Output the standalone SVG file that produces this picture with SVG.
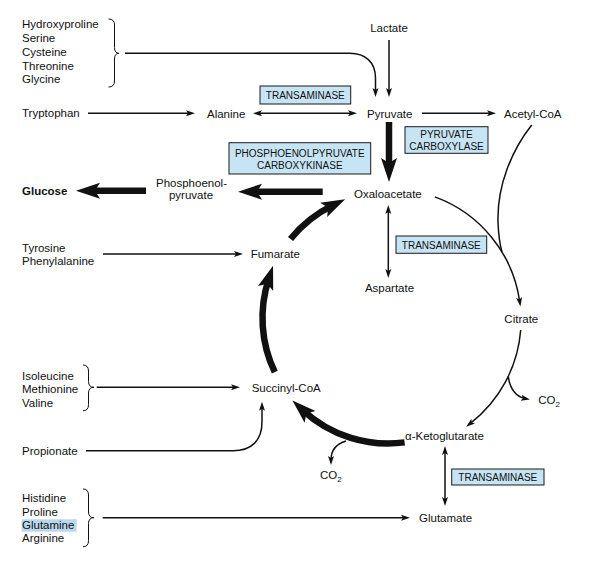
<svg xmlns="http://www.w3.org/2000/svg" width="591" height="561" viewBox="0 0 591 561">
<style>
text{font-family:"Liberation Sans",Arial,sans-serif;font-size:11.5px;fill:#111}
.b{font-weight:bold}
.m{text-anchor:middle}
.box rect{fill:#c6e4f4;stroke:#1a1a1a;stroke-width:1}
.box text{font-size:10px;text-anchor:middle}
.thin{fill:none;stroke:#111;stroke-width:1.5}
.thick{fill:none;stroke:#111;stroke-width:6.5}
.brace{fill:none;stroke:#111;stroke-width:1}
</style>
<defs>
<marker id="ah" markerUnits="userSpaceOnUse" viewBox="0 -4 10 8" markerWidth="10" markerHeight="8" refX="4" refY="0" orient="auto-start-reverse">
<path d="M0,-3 L9,0 L0,3 L2,0 z" fill="#111"/>
</marker>
<marker id="big" markerUnits="userSpaceOnUse" viewBox="0 -9 25 18" markerWidth="25" markerHeight="18" refX="10" refY="0" orient="auto">
<path d="M0,-8 L24,0 L0,8 L5,0 z" fill="#111"/>
</marker>
</defs>

<g id="connectors">
<path class="thin" d="M125,53.3 L350,53.3 C365,53.3 375.5,62 375.5,78 L375.5,92" marker-end="url(#ah)"/>
<path class="thin" d="M389,40 V92" marker-end="url(#ah)"/>
<path class="thin" d="M88,113.3 H190" marker-end="url(#ah)"/>
<path class="thin" d="M258,113.3 H352" marker-start="url(#ah)" marker-end="url(#ah)"/>
<path class="thin" d="M422,113.3 H491" marker-end="url(#ah)"/>
<path class="thin" d="M103,254 H238" marker-end="url(#ah)"/>
<path class="thin" d="M96.7,387.3 H235" marker-end="url(#ah)"/>
<path class="thin" d="M86,450.7 H233 C252,450.7 262,440 262,422 V406.7" marker-end="url(#ah)"/>
<path class="thin" d="M102.7,517.7 H405" marker-end="url(#ah)"/>
<path class="thin" d="M388.3,210 V273" marker-start="url(#ah)" marker-end="url(#ah)"/>
<path class="thin" d="M445,451 V501" marker-start="url(#ah)" marker-end="url(#ah)"/>
<path class="thin" d="M434.8,196.9 A131,131 0 0 1 519.7,301.5" marker-end="url(#ah)"/>
<path class="thin" d="M531.7,125 C512,150 497,185 498,222 C498.5,235 500,245 502,252"/>
<path class="thin" d="M520.7,330 A131,131 0 0 1 470.1,423.6" marker-end="url(#ah)"/>
<path class="thin" d="M508.3,376.7 C510,390 517,397 525,398.5" marker-end="url(#ah)"/>
<path class="thin" d="M346,441 C336,444 331,451 331,460" marker-end="url(#ah)"/>
<path class="thick" d="M389,122 V168" marker-end="url(#big)"/>
<path class="thick" d="M322.7,191.7 H252" marker-end="url(#big)"/>
<path class="thick" d="M146,190.7 H90" marker-end="url(#big)"/>
<path class="thick" d="M290.5,239 A125.5,125.5 0 0 1 332.6,205.4" marker-end="url(#big)"/>
<path class="thick" d="M274.8,372.2 A125.5,125.5 0 0 1 268.7,279" marker-end="url(#big)"/>
<path class="thick" d="M404.6,442.4 A125.5,125.5 0 0 1 302.7,410.1" marker-end="url(#big)"/>
</g>

<g id="aa-group1">
<text x="22" y="28">Hydroxyproline</text>
<text x="22" y="42">Serine</text>
<text x="22" y="56">Cysteine</text>
<text x="22" y="69.5">Threonine</text>
<text x="22" y="83">Glycine</text>
<path class="brace" d="M108.5,19 Q114.5,19 114.5,25 V47.5 Q114.5,53.3 119,53.3 Q114.5,53.3 114.5,59 V81 Q114.5,87 108.5,87"/>
</g>
<g id="lactate"><text class="m" x="389" y="32">Lactate</text></g>
<g id="tryptophan"><text x="22" y="117">Tryptophan</text></g>
<g id="alanine"><text x="207" y="117.5">Alanine</text></g>
<g id="pyruvate"><text x="367" y="117.5">Pyruvate</text></g>
<g id="acetylcoa"><text x="504" y="117.5">Acetyl-CoA</text></g>
<g id="glucose"><text class="b" x="22" y="195">Glucose</text></g>
<g id="pep"><text class="m" x="191.5" y="186.5">Phosphoenol-</text><text class="m" x="191" y="199">pyruvate</text></g>
<g id="oxaloacetate"><text x="354" y="197.5">Oxaloacetate</text></g>
<g id="aa-group2"><text x="22" y="251.6">Tyrosine</text><text x="22" y="265">Phenylalanine</text></g>
<g id="fumarate"><text x="250.7" y="257.5">Fumarate</text></g>
<g id="aspartate"><text class="m" x="389.5" y="292">Aspartate</text></g>
<g id="citrate"><text class="m" x="521.3" y="323">Citrate</text></g>
<g id="aa-group3">
<text x="22" y="380">Isoleucine</text>
<text x="22" y="393.3">Methionine</text>
<text x="22" y="406.7">Valine</text>
<path class="brace" d="M83,365 Q88.5,365 88.5,371 V381.5 Q88.5,387.3 94,387.3 Q88.5,387.3 88.5,393 V404.7 Q88.5,410.7 83,410.7"/>
</g>
<g id="succinylcoa"><text x="251.7" y="391.7">Succinyl-CoA</text></g>
<g id="co2-a"><text x="538.3" y="403.5">CO<tspan font-size="8" dy="3">2</tspan></text></g>
<g id="aketoglutarate"><text x="405" y="439.5">α-Ketoglutarate</text></g>
<g id="propionate"><text x="22" y="455">Propionate</text></g>
<g id="co2-b"><text x="320" y="479">CO<tspan font-size="8" dy="3">2</tspan></text></g>
<g id="aa-group4">
<rect x="21.7" y="519.3" width="55" height="12.4" fill="#b9d8ec"/>
<text x="22" y="501.7">Histidine</text>
<text x="22" y="515.7">Proline</text>
<text x="22" y="529">Glutamine</text>
<text x="22" y="542.3">Arginine</text>
<path class="brace" d="M83,489 Q88.5,489 88.5,495 V512 Q88.5,517.7 94,517.7 Q88.5,517.7 88.5,523.5 V540.7 Q88.5,546.7 83,546.7"/>
</g>
<g id="glutamate"><text x="419" y="521.7">Glutamate</text></g>

<g id="enz-transaminase1" class="box"><rect x="260" y="86" width="90.7" height="18"/><text x="305.3" y="99">TRANSAMINASE</text></g>
<g id="enz-pc" class="box"><rect x="405" y="126.7" width="83" height="26.6"/><text x="446.5" y="137.5">PYRUVATE</text><text x="446.5" y="150">CARBOXYLASE</text></g>
<g id="enz-pepck" class="box"><rect x="229" y="142.7" width="141.7" height="31.3"/><text x="299.8" y="157">PHOSPHOENOLPYRUVATE</text><text x="299.8" y="169">CARBOXYKINASE</text></g>
<g id="enz-transaminase2" class="box"><rect x="396" y="236" width="90.7" height="17.3"/><text x="441.3" y="248.5">TRANSAMINASE</text></g>
<g id="enz-transaminase3" class="box"><rect x="451.7" y="469" width="92.3" height="16"/><text x="497.8" y="481">TRANSAMINASE</text></g>
</svg>
